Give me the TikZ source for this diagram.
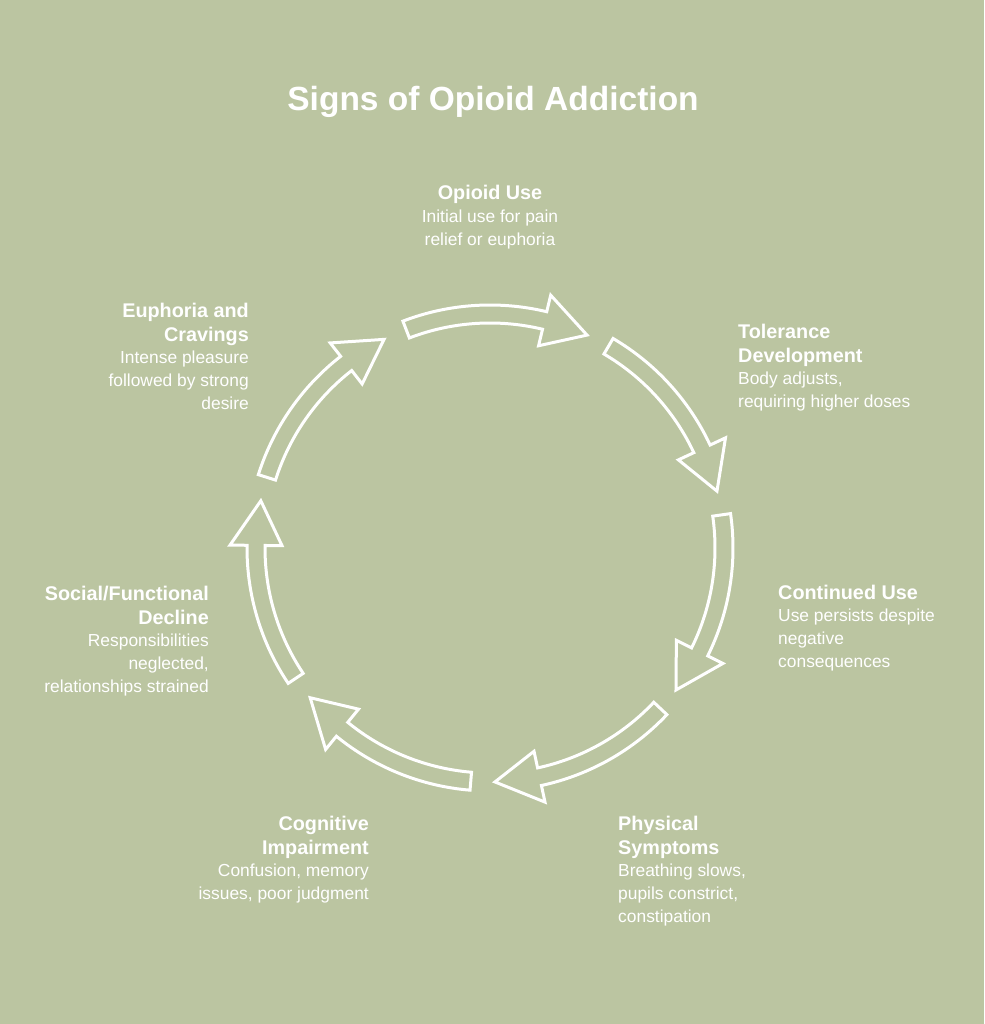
\documentclass[tikz,border=0pt]{standalone}
\usepackage{fontspec}
\setmainfont{Liberation Sans}
\definecolor{bg}{RGB}{187,197,161}
\newcommand{\hd}[1]{{\fontsize{19.8}{22.8}\selectfont\bfseries #1}}
\begin{document}
\begin{tikzpicture}[x=1pt,y=-1pt,
  txt/.style={text=white, inner sep=0pt, font=\fontsize{17.4}{22.8}\selectfont},
  arrowshape/.style={draw=white, line width=3pt, fill=bg, line join=miter}]
\fill[bg] (0,0) rectangle (984,1024);
\useasboundingbox (0,0) rectangle (984,1024);

\node[txt, anchor=base, font=\fontsize{33.5}{40}\selectfont\bfseries] (title) at (493,111) {Signs of Opioid Addiction};

\node[txt, anchor=base] (opioid) at (490,200)
  {\begin{tabular}[t]{@{}c@{}}\hd{Opioid Use}\\Initial use for pain\\relief or euphoria\end{tabular}};
\node[txt, anchor=base west] (tolerance) at (738,338)
  {\begin{tabular}[t]{@{}l@{}}\hd{Tolerance}\\[1.3pt]\hd{Development}\\Body adjusts,\\requiring higher doses\end{tabular}};
\node[txt, anchor=base west] (continued) at (778,599)
  {\begin{tabular}[t]{@{}l@{}}\hd{Continued Use}\\Use persists despite\\negative\\consequences\end{tabular}};
\node[txt, anchor=base west] (physical) at (618,830)
  {\begin{tabular}[t]{@{}l@{}}\hd{Physical}\\[1.3pt]\hd{Symptoms}\\Breathing slows,\\pupils constrict,\\constipation\end{tabular}};
\node[txt, anchor=base east] (cognitive) at (369,830)
  {\begin{tabular}[t]{@{}r@{}}\hd{Cognitive}\\[1.3pt]\hd{Impairment}\\Confusion, memory\\issues, poor judgment\end{tabular}};
\node[txt, anchor=base east] (social) at (209,600)
  {\begin{tabular}[t]{@{}r@{}}\hd{Social/Functional}\\[1.3pt]\hd{Decline}\\Responsibilities\\neglected,\\relationships strained\end{tabular}};
\node[txt, anchor=base east] (euphoria) at (249,317)
  {\begin{tabular}[t]{@{}r@{}}\hd{Euphoria and}\\[1.3pt]\hd{Cravings}\\Intense pleasure\\followed by strong\\desire\end{tabular}};

\begin{scope}[shift={(490,548)}, yscale=-1]
\foreach \i in {0,...,6} {
  \pgfmathsetmacro\s{111-51.4286*\i}
  \pgfmathsetmacro\b{\s-34.5}
  \pgfmathsetmacro\t{\s-45.5}
  \draw[arrowshape] (\s:243) arc[start angle=\s, end angle=\b, radius=243]
    -- (\b:260) -- (\t:234) -- (\b:208) -- (\b:225)
    arc[start angle=\b, end angle=\s, radius=225] -- cycle;
}
\end{scope}
\end{tikzpicture}
\end{document}
